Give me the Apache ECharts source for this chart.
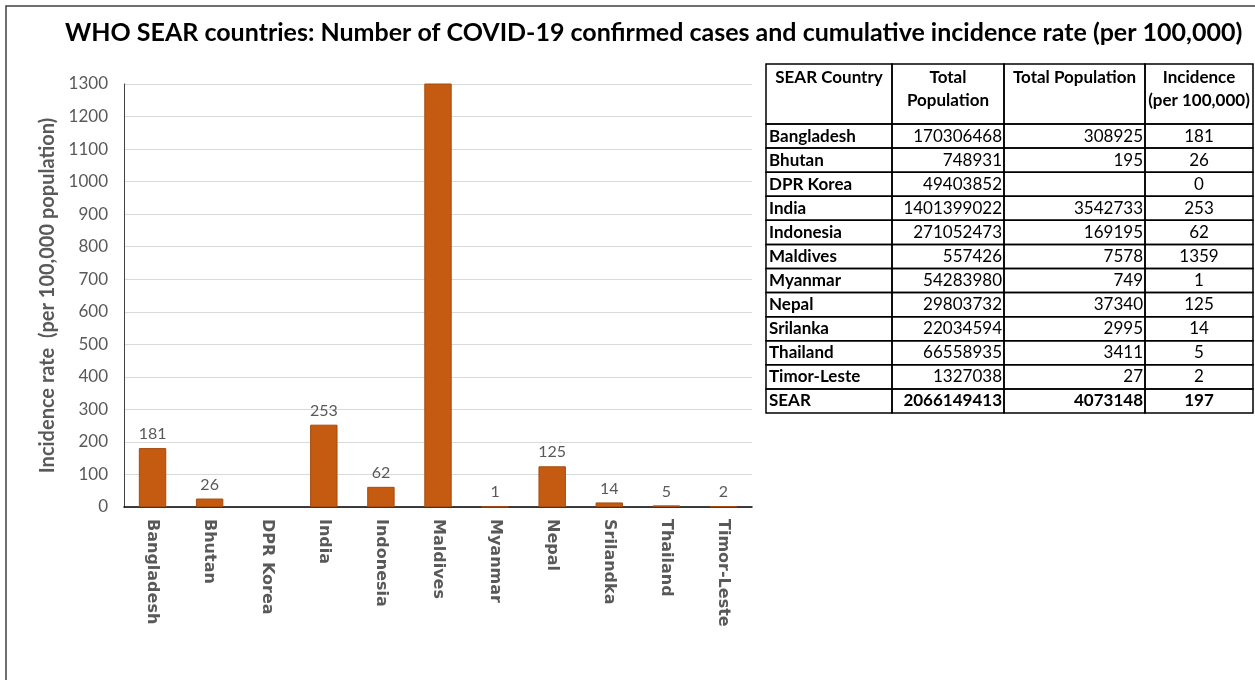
<!DOCTYPE html>
<html><head><meta charset="utf-8">
<script src="https://cdn.jsdelivr.net/npm/echarts@6/dist/echarts.min.js"></script>
<style>html,body{margin:0;padding:0;background:#fff}#c{width:1255px;height:680px}</style>
</head><body><div id="c"></div>
<script>
const titleText = 'WHO SEAR countries: Number of COVID-19 confirmed cases and cumulative incidence rate (per 100,000)';
const categories = ['Bangladesh','Bhutan','DPR Korea','India','Indonesia','Maldives','Myanmar','Nepal','Srilandka','Thailand','Timor-Leste'];
const incidence = [181,26,0,253,62,1359,1,125,14,5,2];
const yMin = 0, yMax = 1300, yInterval = 100;
const yAxisName = 'Incidence rate  (per 100,000 population)';

const tableHeaders = [['SEAR Country'], ['Total','Population'], ['Total Population'], ['Incidence','(per 100,000)']];
const tableCountries = ['Bangladesh','Bhutan','DPR Korea','India','Indonesia','Maldives','Myanmar','Nepal','Srilanka','Thailand','Timor-Leste','SEAR'];
const tablePopulation = [170306468,748931,49403852,1401399022,271052473,557426,54283980,29803732,22034594,66558935,1327038,2066149413];
const tableCases = [308925,195,null,3542733,169195,7578,749,37340,2995,3411,27,4073148];
const tableIncidence = [181,26,0,253,62,1359,1,125,14,5,2,197];

const chart = echarts.init(document.getElementById('c'));

// table layout
const colEdges = [766, 892, 1004, 1145, 1253];
const headTop = 64, headBottom = 124, tableBottom = 413;
const nRows = tableCountries.length;
const rowH = (tableBottom - headBottom) / nRows;
const tFont = 'Lato, "Open Sans", sans-serif';
const tSize = 17;
const g = [];
// frame
g.push({type:'polyline', shape:{points:[[6,680],[6,6],[1255,6]]}, style:{stroke:'#404040', lineWidth:1.5, fill:null}});
// header cells
for (let c = 0; c < 4; c++) {
  g.push({type:'rect', shape:{x:colEdges[c], y:headTop, width:colEdges[c+1]-colEdges[c], height:headBottom-headTop},
    style:{fill:null, stroke:'#000', lineWidth:1.5}});
  const lines = tableHeaders[c];
  lines.forEach((ln, i) => {
    g.push({type:'text', x:(colEdges[c]+colEdges[c+1])/2, y:headTop + 14 + i*23,
      style:{text:ln, font:'bold '+tSize+'px '+tFont, fill:'#000', align:'center', verticalAlign:'middle'}});
  });
}
// body rows
for (let r = 0; r < nRows; r++) {
  const y0 = headBottom + r*rowH;
  const cy = y0 + rowH/2;
  const isTotal = r === nRows-1;
  const vals = [tableCountries[r], tablePopulation[r], tableCases[r], tableIncidence[r]];
  for (let c = 0; c < 4; c++) {
    g.push({type:'rect', shape:{x:colEdges[c], y:y0, width:colEdges[c+1]-colEdges[c], height:rowH},
      style:{fill:null, stroke:'#000', lineWidth:1.5}});
    const v = vals[c];
    if (v === null || v === undefined) continue;
    let x, align;
    if (c === 0) { x = colEdges[c] + 3; align = 'left'; }
    else if (c === 3) { x = (colEdges[c]+colEdges[c+1])/2; align = 'center'; }
    else { x = colEdges[c+1] - 2; align = 'right'; }
    const bold = (c === 0 || isTotal) ? 'bold ' : '';
    g.push({type:'text', x:x, y:cy, style:{text:String(v), font:bold+tSize+'px '+tFont, fill:'#000', align:align, verticalAlign:'middle'}});
  }
}

chart.setOption({
  animation:false,
  title:{text:titleText, left:60, top:15, textStyle:{fontFamily:'Lato, sans-serif', fontWeight:'bold', fontSize:25, color:'#000'}},
  grid:{left:124, right:503, top:84, bottom:173, containLabel:false},
  xAxis:{type:'category', data:categories,
    axisLine:{lineStyle:{color:'#000', width:1.5}}, axisTick:{show:false},
    axisLabel:{rotate:-90, interval:0, margin:12, color:'#595959', fontFamily:'"DejaVu Sans", sans-serif', fontWeight:'bold', fontSize:16}},
  yAxis:{type:'value', min:yMin, max:yMax, interval:yInterval,
    name:yAxisName, nameLocation:'middle', nameRotate:90, nameGap:66,
    nameTextStyle:{color:'#595959', fontFamily:'Lato, sans-serif', fontWeight:'bold', fontSize:20},
    axisLine:{show:true, lineStyle:{color:'#404040', width:1}}, axisTick:{show:false},
    axisLabel:{color:'#595959', fontFamily:'Lato, sans-serif', fontSize:17, margin:16, formatter:v => String(v)},
    splitLine:{lineStyle:{color:'#d9d9d9', width:1}}},
  series:[{type:'bar', data:incidence.map(v => v === 0 ? {value:v, itemStyle:{borderWidth:0}} : v), barWidth:'48%', clip:true,
    itemStyle:{color:'#C55A11', borderColor:'#A64B0E', borderWidth:1},
    label:{show:true, position:'top', distance:6, color:'#595959', fontFamily:'Lato, sans-serif', fontSize:16,
      formatter:p => (p.value === 0 || p.value > yMax) ? '' : String(p.value)}}],
  graphic:g
});
</script></body></html>
